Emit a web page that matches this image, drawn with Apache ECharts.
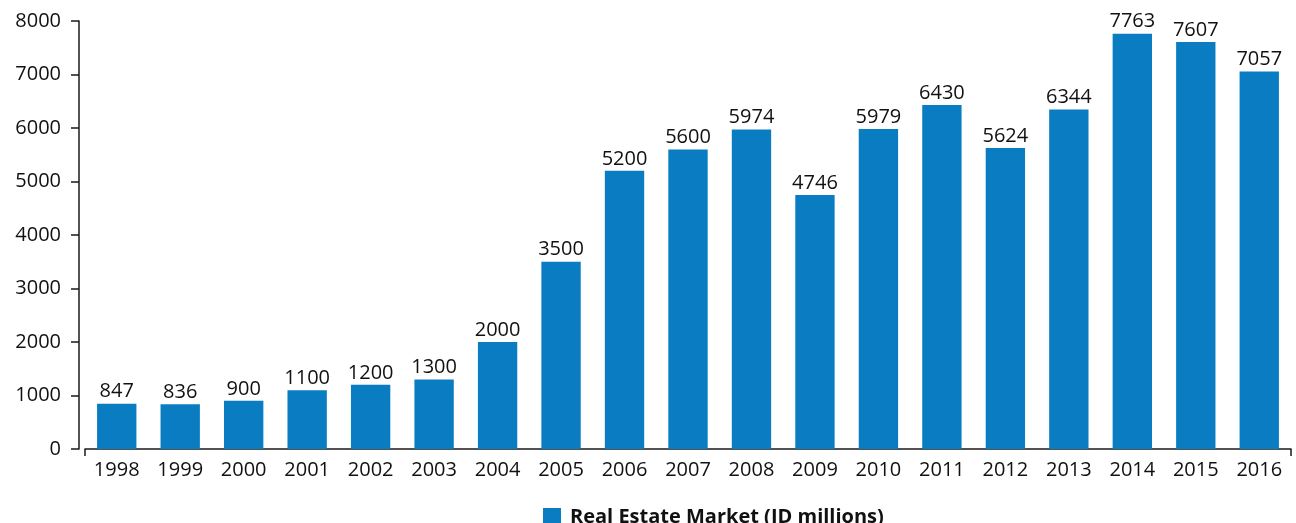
<!DOCTYPE html>
<html>
<head>
<meta charset="utf-8">
<script src="https://cdn.jsdelivr.net/npm/echarts@6/dist/echarts.min.js"></script>
<style>
  html, body { margin: 0; padding: 0; background: #fff; }
  #chart { width: 1296px; height: 523px; }
</style>
</head>
<body>
<div id="chart"></div>
<script>
const years = ["1998", "1999", "2000", "2001", "2002", "2003", "2004", "2005", "2006", "2007",
  "2008", "2009", "2010", "2011", "2012", "2013", "2014", "2015", "2016"];
const marketValues = [847, 836, 900, 1100, 1200, 1300, 2000, 3500, 5200, 5600,
  5974, 4746, 5979, 6430, 5624, 6344, 7763, 7607, 7057];
const seriesName = "Real Estate Market (JD millions)";

const fontFamily = "'Open Sans', 'Noto Sans', sans-serif";
const barColor = "#0a7dc2";
const axisColor = "#1a1a1a";

const chart = echarts.init(document.getElementById("chart"));

chart.setOption({
  animation: false,
  textStyle: { fontFamily: fontFamily },
  grid: {
    left: 85,
    right: 5,
    top: 21,
    bottom: 74,
    containLabel: false,
  },
  legend: {
    show: true,
    top: 502,
    left: 538,
    icon: "rect",
    itemWidth: 18,
    itemHeight: 18,
    itemGap: 10,
    textStyle: {
      color: "#111",
      fontSize: 20,
      fontWeight: "bold",
      fontFamily: fontFamily,
      padding: [0, 0, 0, 4],
    },
    data: [seriesName],
  },
  xAxis: {
    type: "category",
    data: years,
    boundaryGap: true,
    axisLine: {
      show: true,
      lineStyle: { color: axisColor, width: 1.5 },
    },
    axisTick: {
      show: true,
      length: 7,
      interval: (index) => index === 0,
      lineStyle: { color: axisColor, width: 1.5 },
    },
    axisLabel: {
      color: "#111",
      fontSize: 20,
      margin: 11,
      interval: 0,
    },
  },
  yAxis: {
    type: "value",
    min: 0,
    max: 8000,
    interval: 1000,
    offset: 6,
    axisLine: {
      show: true,
      lineStyle: { color: axisColor, width: 1.5 },
    },
    axisTick: {
      show: true,
      length: 8,
      lineStyle: { color: axisColor, width: 1.5 },
    },
    axisLabel: {
      color: "#111",
      fontSize: 20,
      margin: 18,
      formatter: (v) => String(v),
    },
    splitLine: { show: false },
  },
  series: [
    {
      name: seriesName,
      type: "bar",
      data: marketValues,
      barWidth: "62%",
      itemStyle: { color: barColor },
      label: {
        show: true,
        position: "top",
        distance: 2,
        color: "#111",
        fontSize: 20,
      },
    },
  ],
});
</script>
</body>
</html>
